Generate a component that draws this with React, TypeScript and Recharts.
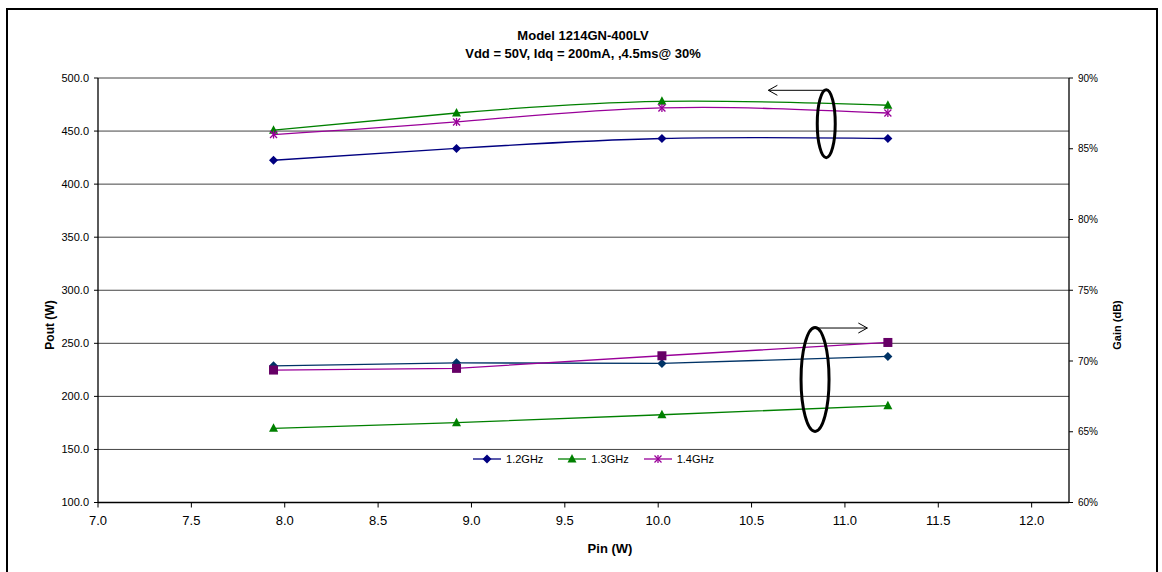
import React from 'react';
import {
    LineChart,
    Line,
    XAxis,
    YAxis,
    CartesianGrid,
    ReferenceDot,
    ReferenceLine,
} from 'recharts';

// Pin (W) for every series
const pin = [7.94, 8.92, 10.02, 11.23];

// Pout (W), left axis
const pout12 = [422.5, 433.6, 443.0, 443.0];
const pout13 = [450.8, 467.0, 478.0, 474.3];
const pout14 = [446.7, 458.6, 471.8, 467.0];

// lower curves, right axis (%)
const gain12 = [69.66, 69.87, 69.83, 70.32];
const gain13 = [65.24, 65.64, 66.2, 66.84];
const gain14 = [69.36, 69.48, 70.37, 71.31];

const xTicks = [7, 7.5, 8, 8.5, 9, 9.5, 10, 10.5, 11, 11.5, 12];
const leftTicks = [100, 150, 200, 250, 300, 350, 400, 450, 500];
const rightTicks = [60, 65, 70, 75, 80, 85, 90];

const legendLabels = ['1.2GHz', '1.3GHz', '1.4GHz'];

const chartData = pin.map((x, i) => ({
    pin: x,
    p12: pout12[i],
    p13: pout13[i],
    p14: pout14[i],
    g12: gain12[i],
    g13: gain13[i],
    g14: gain14[i],
}));

const FONT = '"Liberation Sans", Arial, sans-serif';

const NAVY = '#000080';
const GREEN = '#008000';
const PURPLE = '#990099';
const STEEL = '#003366';
const PLUM = '#660066';

type Marker = 'diamond' | 'triangle' | 'star' | 'square';

function drawMarker(kind: Marker, cx: number, cy: number, color: string, key?: any) {
    if (kind === 'diamond') {
        return (
            <polygon
                key={key}
                points={`${cx},${cy - 4.5} ${cx + 4.5},${cy} ${cx},${cy + 4.5} ${cx - 4.5},${cy}`}
                fill={color}
            />
        );
    }
    if (kind === 'triangle') {
        return (
            <polygon
                key={key}
                points={`${cx},${cy - 5} ${cx + 4.5},${cy + 3.5} ${cx - 4.5},${cy + 3.5}`}
                fill={color}
            />
        );
    }
    if (kind === 'square') {
        return <rect key={key} x={cx - 4.5} y={cy - 4.5} width={9} height={9} fill={color} />;
    }
    return (
        <g key={key} stroke={color} strokeWidth={1.3}>
            <line x1={cx - 3.5} y1={cy - 3.5} x2={cx + 3.5} y2={cy + 3.5} />
            <line x1={cx + 3.5} y1={cy - 3.5} x2={cx - 3.5} y2={cy + 3.5} />
            <line x1={cx} y1={cy - 4} x2={cx} y2={cy + 4} />
        </g>
    );
}

const dotOf = (kind: Marker, color: string) => (props: any) =>
    drawMarker(kind, props.cx, props.cy, color, `${kind}-${props.index}`);

const legendMarkers: Marker[] = ['diamond', 'triangle', 'star'];
const legendColors = [NAVY, GREEN, PURPLE];

function LegendBox() {
    return (
        <div
            style={{
                position: 'absolute',
                top: 453,
                left: 28,
                width: 1130,
                display: 'flex',
                justifyContent: 'center',
                gap: 14,
                fontFamily: FONT,
                fontSize: 11,
            }}
        >
            {legendLabels.map((label, i) => (
                <div key={label} style={{ display: 'flex', alignItems: 'center', gap: 4 }}>
                    <svg width={30} height={12}>
                        <line x1={1} y1={6} x2={29} y2={6} stroke={legendColors[i]} strokeWidth={1.3} />
                        {drawMarker(legendMarkers[i], 15, 6, legendColors[i])}
                    </svg>
                    <span style={{ color: '#000' }}>{label}</span>
                </div>
            ))}
        </div>
    );
}

function arrowShape(props: any) {
    const { x1, y1, x2, y2 } = props;
    const dir = x2 > x1 ? -1 : 1;
    return (
        <g stroke="#000" strokeWidth={1} fill="none">
            <line x1={x1} y1={y1} x2={x2} y2={y2} />
            <polyline points={`${x2 + dir * 9},${y2 - 5} ${x2},${y2} ${x2 + dir * 9},${y2 + 5}`} />
        </g>
    );
}

const ellipseShape = (rx: number, ry: number) => (props: any) =>
    <ellipse cx={props.cx} cy={props.cy} rx={rx} ry={ry} fill="none" stroke="#000" strokeWidth={3} />;

export default function App() {
    return (
        <div style={{ position: 'absolute', left: 0, top: 0, width: 1162, height: 572, overflow: 'hidden', background: '#fff' }}>
            <div
                style={{
                    position: 'absolute',
                    left: 6,
                    top: 8,
                    width: 1148,
                    height: 600,
                    border: '2px solid #000',
                }}
            />
            <div
                style={{
                    position: 'absolute',
                    left: 0,
                    width: 1166,
                    top: 27,
                    textAlign: 'center',
                    fontFamily: FONT,
                    fontWeight: 'bold',
                    fontSize: 13,
                    lineHeight: '18px',
                }}
            >
                <div>Model 1214GN-400LV</div>
                <div>Vdd = 50V, Idq = 200mA, ,4.5ms@ 30%</div>
            </div>

            <div style={{ position: 'absolute', left: 8, top: 8 }}>
                <LineChart width={1150} height={560} data={chartData} margin={{ top: 70, right: 0, left: 0, bottom: 0 }}>
                    <CartesianGrid yAxisId="left" horizontal vertical={false} stroke="#444" strokeWidth={1} />
                    <XAxis
                        dataKey="pin"
                        type="number"
                        domain={[7, 12.2]}
                        ticks={xTicks}
                        height={65.5}
                        tickSize={5}
                        tickMargin={8}
                        axisLine={{ stroke: '#000', strokeWidth: 1.3 }}
                        tickLine={{ stroke: '#000' }}
                        tick={{ fill: '#000', fontSize: 13, fontFamily: FONT }}
                        tickFormatter={(v: number) => v.toFixed(1)}
                    />
                    <YAxis
                        yAxisId="left"
                        domain={[100, 500]}
                        ticks={leftTicks}
                        width={90}
                        tickSize={4}
                        tickMargin={5}
                        axisLine={{ stroke: '#000', strokeWidth: 1.3 }}
                        tickLine={{ stroke: '#000' }}
                        tick={{ fill: '#000', fontSize: 11, fontFamily: FONT }}
                        tickFormatter={(v: number) => v.toFixed(1)}
                    />
                    <YAxis
                        yAxisId="right"
                        orientation="right"
                        domain={[60, 90]}
                        ticks={rightTicks}
                        width={89}
                        tickSize={4}
                        tickMargin={5}
                        axisLine={{ stroke: '#000', strokeWidth: 1.3 }}
                        tickLine={{ stroke: '#000' }}
                        tick={{ fill: '#000', fontSize: 10, fontFamily: FONT }}
                        tickFormatter={(v: number) => `${v}%`}
                    />

                    <Line yAxisId="left" type="natural" dataKey="p12" name="1.2GHz" stroke={NAVY} strokeWidth={1.3} dot={dotOf('diamond', NAVY)} activeDot={false} isAnimationActive={false} />
                    <Line yAxisId="left" type="natural" dataKey="p13" name="1.3GHz" stroke={GREEN} strokeWidth={1.3} dot={dotOf('triangle', GREEN)} activeDot={false} isAnimationActive={false} />
                    <Line yAxisId="left" type="natural" dataKey="p14" name="1.4GHz" stroke={PURPLE} strokeWidth={1.3} dot={dotOf('star', PURPLE)} activeDot={false} isAnimationActive={false} />

                    <Line yAxisId="right" type="linear" dataKey="g12" stroke={STEEL} strokeWidth={1.3} dot={dotOf('diamond', STEEL)} activeDot={false} isAnimationActive={false} />
                    <Line yAxisId="right" type="linear" dataKey="g13" stroke={GREEN} strokeWidth={1.3} dot={dotOf('triangle', GREEN)} activeDot={false} isAnimationActive={false} />
                    <Line yAxisId="right" type="linear" dataKey="g14" stroke={PURPLE} strokeWidth={1.3} dot={dotOf('square', PLUM)} activeDot={false} isAnimationActive={false} />

                    <ReferenceDot yAxisId="left" x={10.9} y={457} r={1} shape={ellipseShape(9, 34)} />
                    <ReferenceLine yAxisId="left" segment={[{ x: 10.9, y: 488.4 }, { x: 10.59, y: 488.4 }]} shape={arrowShape} />
                    <ReferenceDot yAxisId="left" x={10.84} y={216} r={1} shape={ellipseShape(14, 52)} />
                    <ReferenceLine yAxisId="left" segment={[{ x: 10.84, y: 264.4 }, { x: 11.12, y: 264.4 }]} shape={arrowShape} />
                </LineChart>
            </div>

            <LegendBox />

            <div
                style={{
                    position: 'absolute',
                    left: 50,
                    top: 325,
                    transform: 'translate(-50%, -50%) rotate(-90deg)',
                    fontFamily: FONT,
                    fontWeight: 'bold',
                    fontSize: 12,
                    whiteSpace: 'nowrap',
                }}
            >
                Pout (W)
            </div>
            <div
                style={{
                    position: 'absolute',
                    left: 1117,
                    top: 325,
                    transform: 'translate(-50%, -50%) rotate(-90deg)',
                    fontFamily: FONT,
                    fontWeight: 'bold',
                    fontSize: 11,
                    whiteSpace: 'nowrap',
                }}
            >
                Gain (dB)
            </div>
            <div
                style={{
                    position: 'absolute',
                    left: 610,
                    top: 548,
                    transform: 'translate(-50%, -50%)',
                    fontFamily: FONT,
                    fontWeight: 'bold',
                    fontSize: 13,
                    whiteSpace: 'nowrap',
                }}
            >
                Pin (W)
            </div>
        </div>
    );
}
